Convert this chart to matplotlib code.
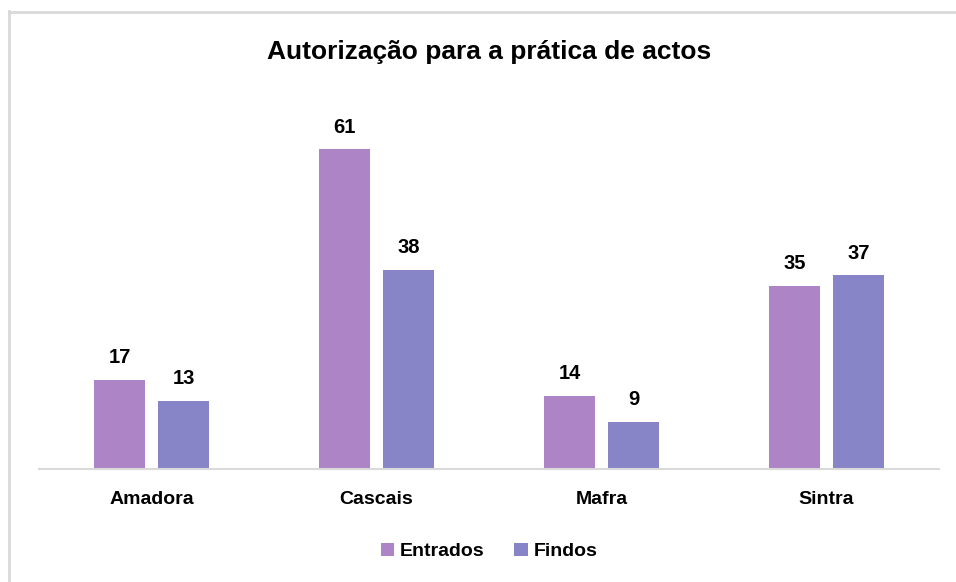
import matplotlib
matplotlib.use("Agg")
import matplotlib.pyplot as plt
import numpy as np
from matplotlib.lines import Line2D

plt.rcParams['font.family'] = ['Liberation Sans Narrow', 'Liberation Sans', 'DejaVu Sans']

categories = ["Amadora", "Cascais", "Mafra", "Sintra"]
entrados = [17, 61, 14, 35]
findos = [13, 38, 9, 37]

c_ent = "#AD84C6"
c_fin = "#8784C7"

fig = plt.figure(figsize=(9.56, 5.82), dpi=100)
ax = fig.add_axes([39 / 956, 113 / 582, 900 / 956, 367 / 582])

x = np.arange(len(categories))
w = 0.227
off = 0.142
b1 = ax.bar(x - off, entrados, w, color=c_ent, label="Entrados")
b2 = ax.bar(x + off, findos, w, color=c_fin, label="Findos")

for bars in (b1, b2):
    for b in bars:
        ax.annotate(str(int(b.get_height())), (b.get_x() + b.get_width() / 2, b.get_height()),
                    xytext=(0, 9), textcoords="offset points", ha="center", va="bottom",
                    fontsize=14.5, fontweight="bold", color="#000000")

ax.set_xlim(-0.5, 3.5)
ax.set_ylim(0, 70)
ax.set_yticks([])
ax.set_xticks(x)
ax.set_xticklabels(categories, fontsize=14, fontweight="bold")
ax.tick_params(axis="x", length=0, pad=16)
for s in ("top", "right", "left"):
    ax.spines[s].set_visible(False)
ax.spines["bottom"].set_color("#D9D9D9")
ax.spines["bottom"].set_linewidth(1.5)

fig.text(489 / 956, 1 - 52 / 582, "Autorização para a prática de actos", ha="center", va="center",
         fontsize=19, fontweight="bold")

ax.legend(loc="center", bbox_to_anchor=(0.5, -0.225), ncol=2, frameon=False,
          prop={"weight": "bold", "size": 14}, handlelength=0.7, handleheight=0.7,
          handletextpad=0.3, columnspacing=1.5)

# chart border (only top and left visible in the crop)
fig.add_artist(Line2D([9 / 956, 9 / 956], [0, 1 - 11 / 582], transform=fig.transFigure,
                      color="#D9D9D9", linewidth=2))
fig.add_artist(Line2D([9 / 956, 1], [1 - 12 / 582, 1 - 12 / 582], transform=fig.transFigure,
                      color="#D9D9D9", linewidth=2))

fig.savefig("out.png", dpi=100)
